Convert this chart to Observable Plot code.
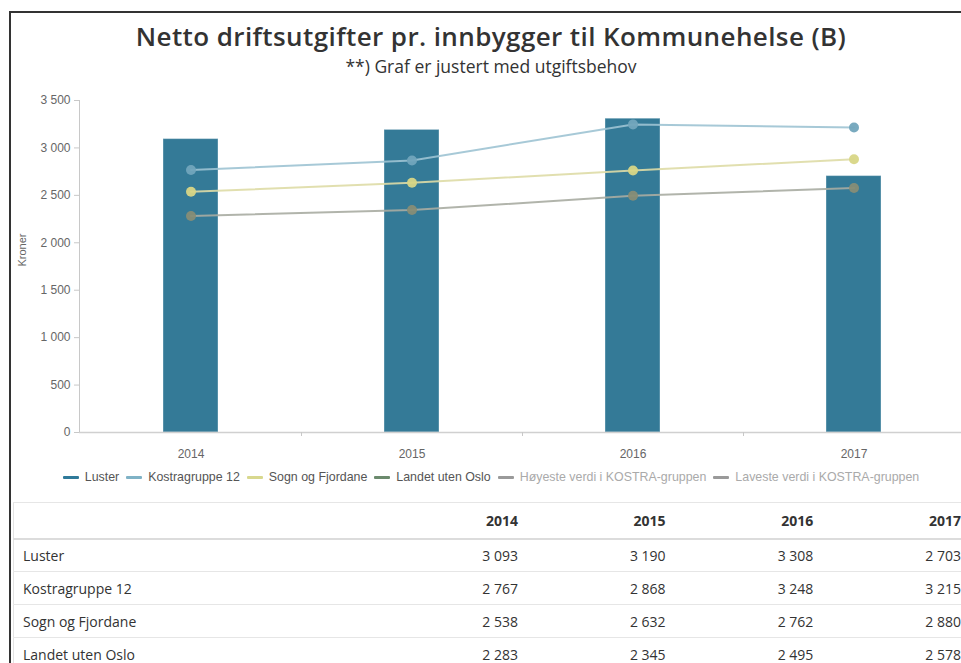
<!DOCTYPE html>
<html><head><meta charset="utf-8">
<script src="https://cdn.jsdelivr.net/npm/d3@7"></script>
<script src="https://cdn.jsdelivr.net/npm/@observablehq/plot@0.6"></script>
<style>
html,body{margin:0;padding:0;width:961px;height:663px;overflow:hidden;background:#fff;}
#frame{position:absolute;left:9px;top:11px;width:1000px;height:700px;border-top:2px solid #333;border-left:2px solid #333;box-sizing:border-box;}
#title{position:absolute;left:10px;width:962px;top:20.5px;text-align:center;font:600 26px/30px "Open Sans",sans-serif;letter-spacing:0.4px;color:#333;white-space:nowrap;}
#subtitle{position:absolute;left:10px;width:962px;top:54.7px;text-align:center;font:17.5px/22px "Open Sans",sans-serif;color:#333;white-space:nowrap;}
#chart{position:absolute;left:0;top:90px;}
#chart svg{max-width:none !important;}
#legend{position:absolute;left:10px;width:962px;top:469px;height:16px;display:flex;justify-content:center;align-items:center;font:12.4px/16px "Liberation Sans",Arial,sans-serif;color:#555;white-space:nowrap}
.item{display:flex;align-items:center;margin:0 3.5px}
.sym{width:16px;height:3px;border-radius:1px;margin-right:6px}
.hidden{color:#aaa}
table{position:absolute;left:13px;top:502px;border-collapse:collapse;font:14px "Open Sans",sans-serif;color:#333;border-left:1px solid #e3e3e3;}
th,td{padding:0;}
thead tr{height:36px;border-top:1px solid #e6e6e6;border-bottom:2px solid #dcdcdc;}
tbody tr{height:33px;border-bottom:1px solid #e6e6e6;}
td.lab{width:348px;padding-left:9px;text-align:left;}
th.num,td.num{width:148px;text-align:right;}
th{font-weight:700;}
</style>
</head><body>
<div id="frame"></div>
<div id="title">Netto driftsutgifter pr. innbygger til Kommunehelse (B)</div>
<div id="subtitle">**) Graf er justert med utgiftsbehov</div>
<div id="chart"></div>
<div id="legend"></div>
<div id="tablewrap"></div>
<script>
// ---- data ----
const years = ["2014", "2015", "2016", "2017"];
const luster = [3093, 3190, 3308, 2703];
const kostragruppe12 = [2767, 2868, 3248, 3215];
const sognOgFjordane = [2538, 2632, 2762, 2880];
const landetUtenOslo = [2283, 2345, 2495, 2578];
const yTicks = [0, 500, 1000, 1500, 2000, 2500, 3000, 3500];
const seriesNames = ["Luster", "Kostragruppe 12", "Sogn og Fjordane", "Landet uten Oslo",
  "Høyeste verdi i KOSTRA-gruppen", "Laveste verdi i KOSTRA-gruppen"];
const yLabel = "Kroner";

// ---- styles (kept apart from data) ----
const legendColors = ["#2f7a9a", "#7fb2c6", "#d8d88e", "#6b8a6d", "#9a9a9a", "#9a9a9a"];
const legendHidden = [false, false, false, false, true, true];
const lineStyles = [
  {values: kostragruppe12, line: "#9dc3d3", dot: "#72a5bc"},
  {values: sognOgFjordane, line: "#dedca6", dot: "#d8d686"},
  {values: landetUtenOslo, line: "#a8aca2", dot: "#878d76"}
];
const barColor = "#347a97";

const fmt = v => d3.format(",")(v).replace(/,/g, "\u00a0");
const barData = years.map((year, i) => ({year, value: luster[i]}));

// axis lines + between-band ticks
function axisLines(index, scales, values, dim) {
  const ns = "http://www.w3.org/2000/svg";
  const g = document.createElementNS(ns, "g");
  const x = scales.x, y = scales.y;
  const bw = typeof x.bandwidth === "function" ? x.bandwidth() : 0;
  const mk = (x1, y1, x2, y2) => {
    const l = document.createElementNS(ns, "line");
    l.setAttribute("x1", x1); l.setAttribute("y1", y1);
    l.setAttribute("x2", x2); l.setAttribute("y2", y2);
    l.setAttribute("stroke", "#c8c8c8"); l.setAttribute("stroke-width", 1);
    g.appendChild(l);
  };
  const xl = dim.marginLeft + 0.5;
  mk(xl, y(yTicks[yTicks.length - 1]), xl, y(0));
  for (let i = 1; i < years.length; i++) {
    const b = Math.round((x(years[i - 1]) + x(years[i])) / 2 + bw / 2) + 0.5;
    mk(b, y(0), b, y(0) + 4);
  }
  return g;
}

const lineMarks = [];
for (const s of lineStyles) {
  const d = years.map((year, i) => ({year, value: s.values[i]}));
  lineMarks.push(Plot.line(d, {x: "year", y: "value", stroke: s.line, strokeWidth: 2, strokeOpacity: 0.9}));
}
for (const s of lineStyles) {
  const d = years.map((year, i) => ({year, value: s.values[i]}));
  lineMarks.push(Plot.dot(d, {x: "year", y: "value", fill: s.dot, r: 5, fillOpacity: 0.95}));
}

const chart = Plot.plot({
  width: 980, height: 372,
  marginLeft: 79, marginRight: 14, marginTop: 10, marginBottom: 30,
  style: {fontFamily: "'Liberation Sans', Arial, sans-serif", fontSize: "12px", background: "transparent", maxWidth: "none"},
  x: {type: "band", domain: years, paddingInner: 0.75, paddingOuter: 0.375, axis: null},
  y: {domain: [0, 3500], axis: null},
  marks: [
    Plot.barY(barData, {x: "year", y: "value", fill: barColor, stroke: "#ffffff", strokeOpacity: 0.35, strokeWidth: 1}),
    Plot.ruleY([0], {stroke: "#d0d0d0", strokeWidth: 1.5}),
    axisLines,
    Plot.axisY({ticks: yTicks, tickFormat: fmt, tickSize: 5, tickPadding: 4, stroke: "#c8c8c8", fill: "#666", fontSize: 12, label: null}),
    Plot.axisX({tickSize: 0, tickPadding: 17, fill: "#666", fontSize: 12, label: null}),
    Plot.text([yLabel], {text: d => d, frameAnchor: "left", dx: -57, rotate: -90, fill: "#666", fontSize: 11}),
    ...lineMarks
  ]
});
chart.style.maxWidth = "none";
document.getElementById("chart").appendChild(chart);

// legend
const legend = document.getElementById("legend");
seriesNames.forEach((name, i) => {
  const item = document.createElement("div");
  item.className = "item" + (legendHidden[i] ? " hidden" : "");
  const sym = document.createElement("span");
  sym.className = "sym";
  sym.style.background = legendColors[i];
  const t = document.createElement("span");
  t.textContent = name;
  item.appendChild(sym); item.appendChild(t);
  legend.appendChild(item);
});

// table
const rows = [
  ["Luster", luster], ["Kostragruppe 12", kostragruppe12],
  ["Sogn og Fjordane", sognOgFjordane], ["Landet uten Oslo", landetUtenOslo]
];
let html = "<table><thead><tr><td class='lab'></td>" + years.map(y => `<th class='num'>${y}</th>`).join("") + "</tr></thead><tbody>";
for (const [name, vals] of rows) {
  html += `<tr><td class='lab'>${name}</td>` + vals.map(v => `<td class='num'>${fmt(v)}</td>`).join("") + "</tr>";
}
html += "</tbody></table>";
document.getElementById("tablewrap").innerHTML = html;
</script>
</body></html>
